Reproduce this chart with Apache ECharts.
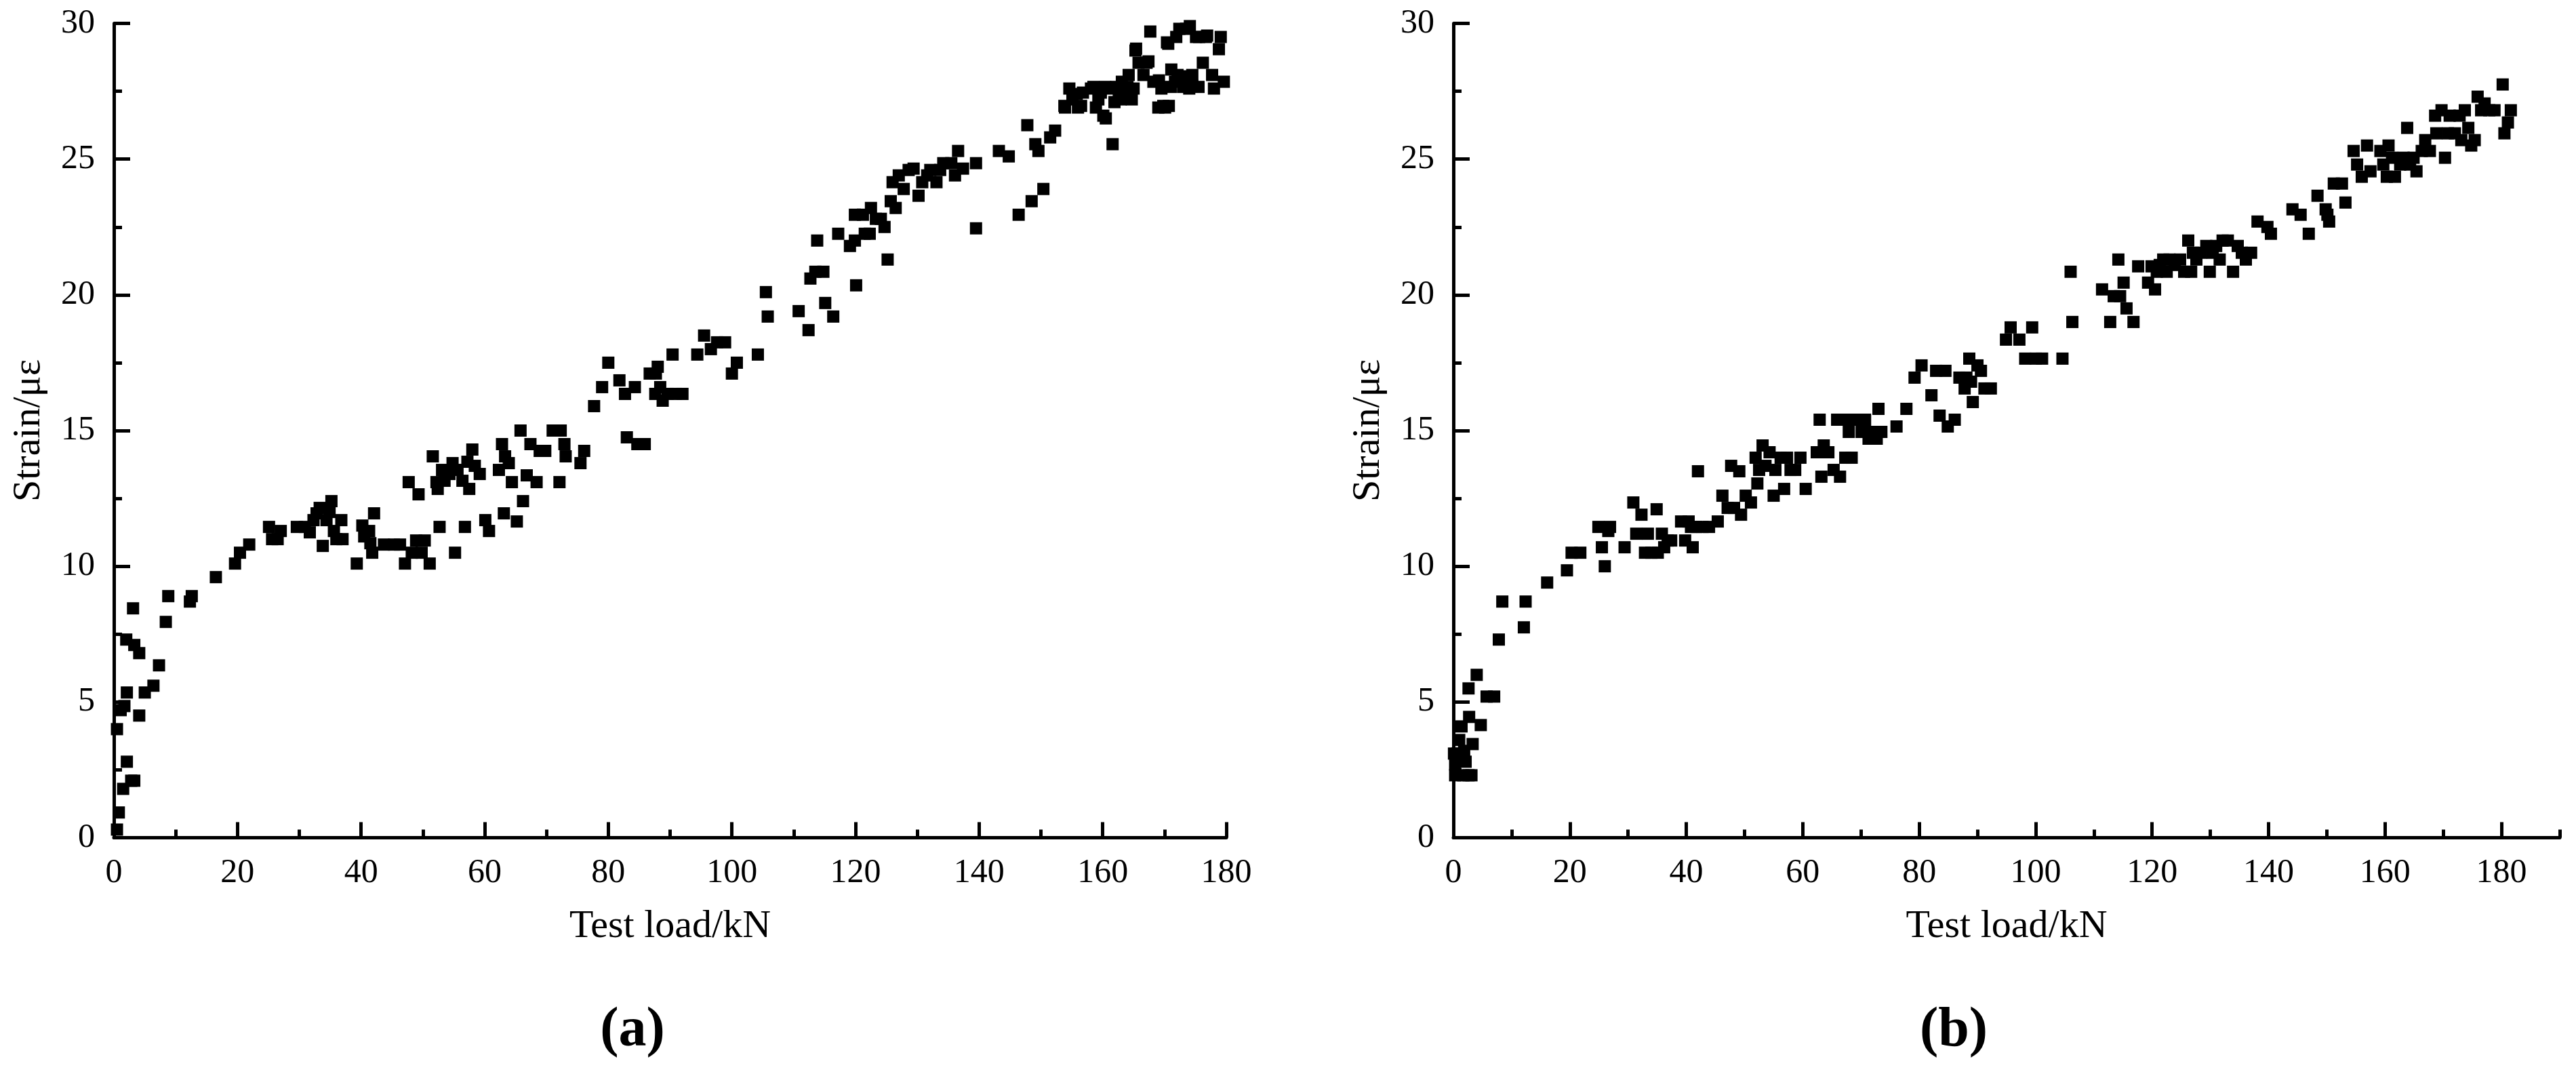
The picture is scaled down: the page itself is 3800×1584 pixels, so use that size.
<!DOCTYPE html>
<html>
<head>
<meta charset="utf-8">
<script src="https://cdn.jsdelivr.net/npm/echarts@6/dist/echarts.min.js"></script>
<style>
html,body{margin:0;padding:0;background:#fff;}
#chart{width:3800px;height:1584px;}
</style>
</head>
<body>
<div id="chart"></div>
<script>
// ---- Data ----
const testLoadA = [0.5,0.8,1.5,2.8,3.3,2.1,0.5,1.1,1.7,2.1,4.1,5.0,6.4,7.3,2.0,3.3,4.1,3.1,8.4,8.8,12.3,12.6,16.5,19.6,20.4,21.9,25.1,25.6,26.5,27.0,29.6,30.9,31.7,32.3,32.8,33.3,33.8,34.4,34.9,35.2,35.6,36.0,36.8,37.0,39.3,40.2,40.5,41.3,41.5,41.8,42.1,43.7,45.3,46.3,47.1,47.7,48.2,48.9,49.3,49.8,50.3,51.1,51.6,52.2,52.4,52.7,53.1,53.5,54.3,54.8,55.2,55.6,56.4,56.8,57.2,57.5,58.0,58.4,59.2,60.1,60.7,62.3,62.8,63.1,63.3,63.9,64.4,65.2,65.8,66.2,66.8,67.4,68.4,68.9,69.8,71.0,72.1,72.3,72.9,73.1,75.5,76.1,77.7,79.0,80.0,81.8,82.7,83.0,84.3,84.7,85.9,86.7,87.7,88.0,87.6,88.4,88.8,89.6,90.4,90.9,92.0,94.4,95.5,96.6,97.6,98.9,100.0,100.8,104.2,105.5,105.8,110.8,112.4,112.7,113.8,113.5,114.8,115.1,116.4,117.2,119.1,119.9,120.1,119.9,121.2,121.5,122.3,122.5,123.3,124.1,124.7,125.2,125.7,126.0,126.5,127.0,127.8,128.6,129.4,130.2,130.8,131.6,132.1,133.1,133.7,134.2,135.5,136.1,136.6,137.4,139.5,139.5,143.2,144.8,146.4,147.8,148.5,149.1,149.6,150.4,151.5,152.3,153.9,154.6,155.1,156.0,156.8,158.1,158.9,159.7,160.1,160.5,161.0,161.6,161.9,162.6,163.1,163.7,164.2,165.0,165.3,165.8,166.6,167.1,167.7,168.2,169.0,169.5,170.1,170.6,171.1,171.7,171.9,172.4,173.0,173.5,174.0,174.5,175.1,175.6,176.2,176.7,177.7,178.0,178.8,179.1,179.6,158.5,160.4,162.2,164.0,159.3,162.9,164.7,169.8,170.7,172.1,174.5,169.1,170.4,176.9,174.1,167.4,171.0,173.0,175.5,165.4,155.8,153.8,156.5];
const strainA = [0.3,0.93,1.8,2.1,2.1,2.8,4.0,4.7,4.85,5.35,4.5,5.35,5.6,6.35,7.3,7.1,6.8,8.45,7.95,8.9,8.7,8.9,9.6,10.1,10.5,10.8,11.45,11.0,11.0,11.3,11.45,11.45,11.25,11.7,11.95,12.15,10.75,11.7,12.0,12.4,11.3,11.0,11.7,11.0,10.1,11.5,11.1,11.3,10.85,10.5,11.95,10.8,10.8,10.8,10.1,13.1,10.5,10.95,12.65,10.5,10.95,10.1,14.05,13.1,12.85,11.45,13.55,13.15,13.4,13.8,10.5,13.55,13.15,11.45,13.85,12.85,14.3,13.7,13.4,11.7,11.3,13.55,14.5,11.95,14.05,13.8,13.1,11.65,15.0,12.4,13.35,14.5,13.1,14.25,14.25,15.0,13.1,15.0,14.5,14.05,13.8,14.25,15.9,16.6,17.5,16.85,16.35,14.75,16.6,14.5,14.5,17.1,17.1,17.35,16.35,16.6,16.1,16.35,17.8,16.35,16.35,17.8,18.5,18.0,18.25,18.25,17.1,17.5,17.8,20.1,19.2,19.4,18.7,20.6,22.0,20.85,20.85,19.7,19.2,22.25,21.8,22.0,20.35,22.95,22.95,22.25,22.25,23.2,22.8,22.8,22.5,21.3,23.45,24.15,23.2,24.4,23.9,24.6,24.65,23.65,24.15,24.4,24.6,24.15,24.6,24.85,24.85,24.4,25.3,24.65,24.85,22.45,25.3,25.1,22.95,26.25,23.45,25.55,25.3,23.9,25.8,26.05,26.9,27.6,27.2,26.9,27.45,27.6,26.9,27.45,26.6,26.5,27.6,25.55,27.1,27.35,27.85,27.35,28.1,27.6,29.0,28.55,28.1,28.55,29.7,27.85,26.9,27.6,26.9,29.25,28.3,27.85,29.5,29.8,28.05,29.8,27.6,28.1,29.5,29.5,28.55,29.5,28.1,27.6,29.05,29.5,27.85,27.66,27.66,27.66,27.66,27.2,27.2,27.2,26.96,26.96,28.1,27.7,27.9,29.3,29.55,29.9,28.6,27.66,27.66,27.66,29.07,27.4,26.96,26.96];

const testLoadB = [0.3,0.7,1.0,1.4,1.7,2.1,2.6,3.1,2.7,2.6,3.3,4.0,4.7,5.7,7.0,0.3,0.1,1.85,7.8,8.4,12.1,12.4,16.1,19.5,20.3,21.8,24.9,25.5,26.0,26.6,26.9,29.4,30.9,31.4,32.3,32.9,33.4,34.0,34.9,35.1,35.8,36.2,36.8,37.4,39.1,39.8,40.4,40.8,41.1,41.7,42.0,42.8,43.9,45.4,46.2,47.1,47.7,48.2,49.1,49.4,50.2,51.1,51.9,52.2,52.5,53.1,53.6,54.3,55.0,55.3,56.2,56.8,57.3,57.9,58.7,59.6,60.5,62.4,62.9,63.2,63.6,64.4,65.3,65.9,66.4,67.3,67.6,67.9,68.4,69.3,70.1,70.7,71.3,72.1,72.7,73.0,73.5,76.1,77.8,79.2,80.4,82.1,82.9,83.5,84.5,84.9,86.1,86.9,87.8,88.1,88.6,88.9,89.2,90.0,90.6,91.2,92.3,94.9,95.7,97.2,98.2,99.4,100.0,101.1,104.6,106.0,106.3,111.4,112.8,113.4,114.2,114.5,115.1,115.6,116.8,117.6,119.3,119.9,120.5,120.8,121.3,121.9,122.5,123.0,123.9,124.8,125.5,126.2,126.7,127.0,127.6,128.4,129.3,129.9,130.4,131.0,131.6,132.1,133.0,133.9,134.7,135.4,136.1,137.0,138.1,139.8,140.4,144.1,145.5,146.9,148.4,149.8,150.1,150.4,151.2,152.6,153.2,154.6,155.2,156.0,156.9,157.5,159.2,159.7,160.3,160.6,161.2,161.7,162.6,163.2,163.8,164.3,164.9,165.4,166.3,166.9,167.7,168.6,168.8,169.7,170.3,170.8,171.1,172.0,172.8,173.1,173.7,174.3,174.8,175.4,175.9,176.5,177.1,177.9,178.8,180.2,180.5,181.1,181.6];
const strainB = [2.3,3.1,3.6,4.1,2.3,2.8,2.3,2.3,4.45,5.5,3.45,6.0,4.15,5.2,5.2,2.7,3.1,3.2,7.3,8.7,7.75,8.7,9.4,9.85,10.5,10.5,11.45,10.7,10.0,11.3,11.45,10.7,12.35,11.2,11.9,10.5,11.2,10.5,12.1,10.5,11.2,10.7,10.95,10.95,11.65,10.95,11.65,11.45,10.7,11.45,13.5,11.45,11.45,11.65,12.6,12.15,13.7,12.15,13.5,11.9,12.6,12.35,14.0,13.05,13.55,14.45,13.7,14.2,12.6,13.55,14.0,12.85,14.0,13.55,13.55,14.0,12.85,14.2,15.4,13.3,14.45,14.2,13.55,15.4,13.3,14.0,15.4,14.95,14.0,15.4,14.95,15.4,14.7,14.95,14.7,15.8,14.95,15.15,15.8,16.95,17.4,16.3,17.2,15.55,17.2,15.15,15.4,16.95,16.55,16.95,17.65,16.8,16.05,17.4,17.2,16.55,16.55,18.35,18.8,18.35,17.65,18.8,17.65,17.65,17.65,20.85,19.0,20.2,19.0,19.95,21.3,19.95,20.45,19.5,19.0,21.05,20.45,21.05,20.2,20.85,21.1,21.3,20.85,21.3,21.1,21.3,20.85,22.0,20.85,21.55,21.3,21.55,21.8,20.85,21.55,21.8,21.3,22.0,22.0,20.85,21.8,21.55,21.3,21.55,22.7,22.5,22.25,23.15,22.95,22.25,23.65,23.15,22.95,22.7,24.1,24.1,23.4,25.3,24.8,24.35,25.5,24.55,25.3,24.8,24.35,25.5,25.05,24.35,24.8,25.05,26.15,24.8,25.05,24.55,25.3,25.7,25.3,26.6,25.95,26.8,25.05,25.95,26.6,25.95,26.6,25.7,26.8,26.15,25.5,25.7,27.3,26.8,27.05,26.8,26.8,27.75,25.95,26.35,26.8];

const xTickValues = [0,20,40,60,80,100,120,140,160,180];
const xAxisTitle = 'Test load/kN';
const yAxisTitle = 'Strain/με';
const panelLabels = ['(a)', '(b)'];

// ---- Styling ----
const FONT = '"Liberation Serif", "Times New Roman", serif';
const BLACK = '#000';
const LW = 5;

function zip(xs, ys) { return xs.map((x, i) => [x, ys[i]]); }

const labelStyle = { fontFamily: FONT, fontSize: 50, color: BLACK };
const nameStyle = { fontFamily: FONT, fontSize: 58, color: BLACK };

function yAxisCfg(gridIndex) {
  return {
    gridIndex: gridIndex, type: 'value', min: 0, max: 30, interval: 5,
    name: yAxisTitle, nameLocation: 'middle', nameGap: 96, nameTextStyle: nameStyle,
    axisLine: { show: true, lineStyle: { color: BLACK, width: LW } },
    axisTick: { show: true, inside: true, length: 24, lineStyle: { color: BLACK, width: LW } },
    minorTick: { show: true, splitNumber: 2, length: 12, lineStyle: { color: BLACK, width: LW } },
    splitLine: { show: false }, minorSplitLine: { show: false },
    axisLabel: Object.assign({ margin: 28 }, labelStyle)
  };
}

const option = {
  backgroundColor: '#fff',
  animation: false,
  grid: [
    { left: 168, top: 34.5, width: 1641, height: 1201, containLabel: false },
    { left: 2144, top: 34.5, width: 1632, height: 1201, containLabel: false }
  ],
  xAxis: [
    {
      gridIndex: 0, type: 'value', min: 0, max: 180, interval: 20,
      name: xAxisTitle, nameLocation: 'middle', nameGap: 102, nameTextStyle: nameStyle,
      axisLine: { show: true, onZero: false, lineStyle: { color: BLACK, width: LW } },
      axisTick: { show: true, inside: true, length: 23, lineStyle: { color: BLACK, width: LW } },
      minorTick: { show: true, splitNumber: 2, length: 12, lineStyle: { color: BLACK, width: LW } },
      splitLine: { show: false }, minorSplitLine: { show: false },
      axisLabel: Object.assign({ margin: 27 }, labelStyle)
    },
    {
      gridIndex: 1, type: 'value', min: 0, max: 190, interval: 10, position: 'bottom',
      name: xAxisTitle, nameLocation: 'middle', nameGap: 102, nameTextStyle: nameStyle,
      axisLine: { show: true, onZero: false, lineStyle: { color: BLACK, width: LW } },
      axisTick: { show: true, inside: true, length: 12, lineStyle: { color: BLACK, width: LW } },
      splitLine: { show: false },
      axisLabel: Object.assign({
        margin: 27,
        customValues: xTickValues,
        formatter: function (v) { return (v % 20 === 0 && v <= 180) ? String(v) : ''; }
      }, labelStyle)
    },
    {
      gridIndex: 1, type: 'value', min: 0, max: 190, interval: 20, position: 'bottom',
      axisLine: { show: false, onZero: false },
      axisTick: { show: true, inside: true, length: 23, customValues: xTickValues, lineStyle: { color: BLACK, width: LW } },
      splitLine: { show: false },
      axisLabel: { show: false }
    }
  ],
  yAxis: [ yAxisCfg(0), yAxisCfg(1) ],
  series: [
    {
      type: 'scatter', xAxisIndex: 0, yAxisIndex: 0,
      symbol: 'rect', symbolSize: 18,
      itemStyle: { color: BLACK, opacity: 1 },
      data: zip(testLoadA, strainA)
    },
    {
      type: 'scatter', xAxisIndex: 1, yAxisIndex: 1,
      symbol: 'rect', symbolSize: 18,
      itemStyle: { color: BLACK, opacity: 1 },
      data: zip(testLoadB, strainB)
    }
  ],
  graphic: [
    { type: 'text', x: 933, y: 1521,
      style: { text: panelLabels[0], font: 'bold 82px ' + FONT, fill: BLACK,
               textAlign: 'center', align: 'center', textVerticalAlign: 'middle', verticalAlign: 'middle' } },
    { type: 'text', x: 2882, y: 1521,
      style: { text: panelLabels[1], font: 'bold 82px ' + FONT, fill: BLACK,
               textAlign: 'center', align: 'center', textVerticalAlign: 'middle', verticalAlign: 'middle' } }
  ]
};

const chart = echarts.init(document.getElementById('chart'), null, { renderer: 'canvas' });
chart.setOption(option);
</script>
</body>
</html>
